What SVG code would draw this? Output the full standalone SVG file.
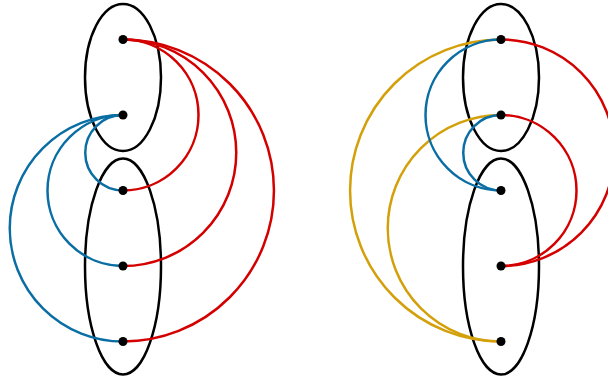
<svg xmlns="http://www.w3.org/2000/svg" width="608" height="379" viewBox="0 0 608 379">
<style>
.ell{fill:none;stroke:#000;stroke-width:2.5}
.e{fill:none;stroke-width:2.5}
.r{stroke:#d40000}
.b{stroke:#0a6ea4}
.g{stroke:#d4a00a}
.pt{fill:#000}
</style>
<rect width="608" height="379" fill="#fff"/>
<g id="left-top-set"><ellipse class="ell" cx="123" cy="77.5" rx="38" ry="73.5"/></g>
<g id="left-bottom-set"><ellipse class="ell" cx="123" cy="266.5" rx="38" ry="108"/></g>
<g id="right-top-set"><ellipse class="ell" cx="501" cy="77.5" rx="38" ry="73.5"/></g>
<g id="right-bottom-set"><ellipse class="ell" cx="501" cy="266.5" rx="38" ry="108"/></g>
<g id="connectors">
<path class="e r" d="M123,39.5 A75.5,75.5 0 0 1 123,190.5"/>
<path class="e r" d="M123,39.5 A113.25,113.25 0 0 1 123,266"/>
<path class="e r" d="M123,39.5 A151,151 0 0 1 123,341.5"/>
<path class="e b" d="M123,115 A37.75,37.75 0 0 0 123,190.5"/>
<path class="e b" d="M123,115 A75.5,75.5 0 0 0 123,266"/>
<path class="e b" d="M123,115 A113.25,113.25 0 0 0 123,341.5"/>
<path class="e g" d="M501,39.5 A151,151 0 0 0 501,341.5"/>
<path class="e g" d="M501,115 A113.25,113.25 0 0 0 501,341.5"/>
<path class="e b" d="M501,39.5 A75.5,75.5 0 0 0 501,190.5"/>
<path class="e b" d="M501,115 A37.75,37.75 0 0 0 501,190.5"/>
<path class="e r" d="M501,39.5 A113.25,113.25 0 0 1 501,266"/>
<path class="e r" d="M501,115 A75.5,75.5 0 0 1 501,266"/>
</g>
<g id="left-p1"><circle class="pt" cx="123" cy="39.5" r="4.5"/></g>
<g id="left-p2"><circle class="pt" cx="123" cy="115" r="4.5"/></g>
<g id="left-p3"><circle class="pt" cx="123" cy="190.5" r="4.5"/></g>
<g id="left-p4"><circle class="pt" cx="123" cy="266" r="4.5"/></g>
<g id="left-p5"><circle class="pt" cx="123" cy="341.5" r="4.5"/></g>
<g id="right-p1"><circle class="pt" cx="501" cy="39.5" r="4.5"/></g>
<g id="right-p2"><circle class="pt" cx="501" cy="115" r="4.5"/></g>
<g id="right-p3"><circle class="pt" cx="501" cy="190.5" r="4.5"/></g>
<g id="right-p4"><circle class="pt" cx="501" cy="266" r="4.5"/></g>
<g id="right-p5"><circle class="pt" cx="501" cy="341.5" r="4.5"/></g>
</svg>
